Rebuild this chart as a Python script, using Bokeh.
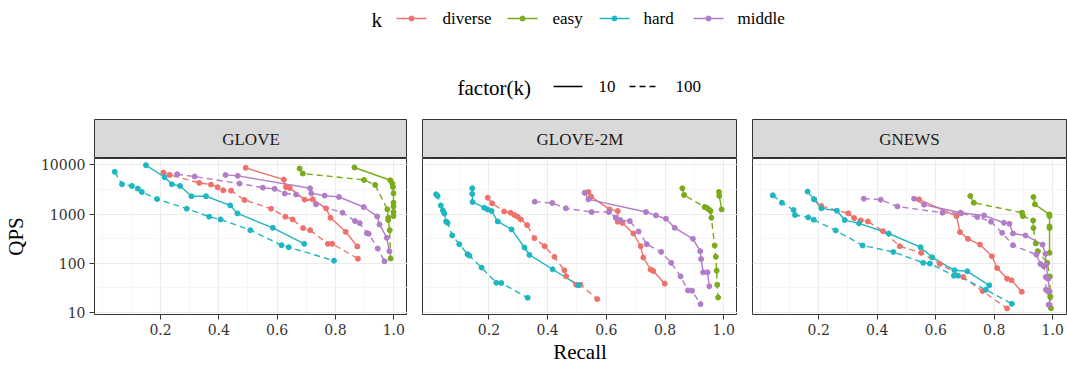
from bokeh.plotting import figure
from bokeh.layouts import column, row
from bokeh.models import Range1d, FixedTicker, CustomJSTickFormatter
from bokeh.core.properties import value
from bokeh.embed import file_html
from bokeh.resources import INLINE

FONT = "Liberation Serif"
TICKFONT = "DejaVu Serif"
TICKSIZE = "14px"
SMALL = "17px"
BIG = "21px"

datasets = ["GLOVE", "GLOVE-2M", "GNEWS"]
workloads = ["diverse", "easy", "hard", "middle"]
k_levels = ["10", "100"]
palette = ["#F0706B", "#7AAB1A", "#1DB7C1", "#B27DC8"]

x_ticks = [0.2, 0.4, 0.6, 0.8, 1.0]
x_minor = [0.0, 0.1, 0.3, 0.5, 0.7, 0.9]
y_ticks = [10, 100, 1000, 10000]
y_minor = [10 ** 1.5, 10 ** 2.5, 10 ** 3.5]

# ---------------- GLOVE ----------------
glove_diverse_10_recall = [0.492, 0.623, 0.630, 0.643, 0.694, 0.722, 0.768, 0.783, 0.835, 0.875]
glove_diverse_10_qps = [8690, 5020, 3560, 3400, 1963, 1990, 1305, 841, 436, 219]
glove_diverse_100_recall = [0.210, 0.232, 0.333, 0.373, 0.396, 0.415, 0.442, 0.488, 0.579, 0.628, 0.653, 0.689, 0.713, 0.774, 0.789, 0.877]
glove_diverse_100_qps = [6980, 6250, 4300, 3970, 3500, 3040, 2990, 1930, 1285, 884, 778, 518, 471, 248, 248, 124]
glove_easy_10_recall = [0.865, 0.988, 0.995, 0.997, 0.999, 0.999, 0.999, 0.999, 0.999]
glove_easy_10_qps = [8840, 4860, 4160, 3560, 2640, 1700, 1430, 1100, 910]
glove_easy_100_recall = [0.677, 0.688, 0.898, 0.936, 0.978, 0.981, 0.981, 0.986, 0.989]
glove_easy_100_qps = [8420, 6660, 4940, 3910, 1245, 840, 755, 471, 125]
glove_hard_10_recall = [0.150, 0.214, 0.239, 0.267, 0.306, 0.356, 0.439, 0.464, 0.585, 0.693]
glove_hard_10_qps = [9840, 5600, 4030, 3730, 2300, 2300, 1500, 1030, 526, 248]
glove_hard_100_recall = [0.043, 0.068, 0.102, 0.122, 0.136, 0.188, 0.290, 0.367, 0.406, 0.508, 0.615, 0.640, 0.795]
glove_hard_100_qps = [7200, 4030, 3730, 3290, 2810, 2020, 1285, 884, 778, 471, 233, 212, 113]
glove_middle_10_recall = [0.423, 0.465, 0.713, 0.717, 0.763, 0.812, 0.897, 0.943, 0.951, 0.976, 0.985]
glove_middle_10_qps = [6250, 5970, 3340, 2640, 2370, 2220, 1390, 896, 615, 329, 176]
glove_middle_100_recall = [0.257, 0.317, 0.471, 0.551, 0.591, 0.626, 0.665, 0.733, 0.824, 0.867, 0.883, 0.908, 0.914, 0.945, 0.968]
glove_middle_100_qps = [6450, 5780, 4160, 3440, 3250, 2620, 2500, 1575, 1065, 720, 655, 409, 397, 199, 110]

# ---------------- GLOVE-2M ----------------
glove2m_diverse_10_recall = [0.539, 0.548, 0.611, 0.639, 0.639, 0.655, 0.692, 0.717, 0.726, 0.751, 0.760, 0.799]
glove2m_diverse_10_qps = [2810, 2260, 1245, 1150, 698, 660, 403, 222, 131, 74.3, 69.8, 38.5]
glove2m_diverse_100_recall = [0.196, 0.211, 0.252, 0.274, 0.287, 0.298, 0.309, 0.330, 0.355, 0.390, 0.423, 0.457, 0.463, 0.497, 0.512, 0.569]
glove2m_diverse_100_qps = [2150, 1650, 1133, 1065, 954, 883, 778, 597, 324, 222, 135, 72, 54.3, 36.7, 36.7, 18.7]
glove2m_easy_10_recall = [0.984, 0.985, 0.993]
glove2m_easy_10_qps = [2810, 2330, 1245]
glove2m_easy_100_recall = [0.859, 0.865, 0.935, 0.942, 0.949, 0.955, 0.958, 0.969, 0.973, 0.976, 0.978, 0.981]
glove2m_easy_100_qps = [3340, 2440, 1390, 1346, 1245, 1150, 841, 230, 135, 70.8, 36.7, 20.2]
glove2m_hard_10_recall = [0.143, 0.143, 0.144, 0.184, 0.195, 0.209, 0.230, 0.277, 0.321, 0.338, 0.417, 0.505]
glove2m_hard_10_qps = [3340, 2560, 1760, 1345, 1245, 1150, 708, 487, 209, 148, 75.5, 35.6]
glove2m_hard_100_recall = [0.020, 0.025, 0.036, 0.043, 0.048, 0.054, 0.059, 0.075, 0.099, 0.127, 0.133, 0.175, 0.225, 0.242, 0.332]
glove2m_hard_100_qps = [2520, 2330, 1500, 1190, 1030, 708, 665, 367, 244, 153, 143, 81.6, 40.3, 39.7, 19.9]
glove2m_middle_10_recall = [0.526, 0.539, 0.735, 0.769, 0.803, 0.833, 0.895, 0.920, 0.923, 0.930, 0.945, 0.951]
glove2m_middle_10_qps = [2720, 1990, 1100, 940, 804, 526, 314, 176, 122, 65.5, 65.5, 34]
glove2m_middle_100_recall = [0.356, 0.416, 0.462, 0.550, 0.609, 0.632, 0.648, 0.680, 0.710, 0.738, 0.787, 0.821, 0.853, 0.878, 0.892, 0.921]
glove2m_middle_100_qps = [1785, 1677, 1306, 1100, 1100, 841, 755, 720, 443, 244, 170, 102, 54.3, 28.1, 27.7, 14.8]

# ---------------- GNEWS ----------------
gnews_diverse_10_recall = [0.543, 0.671, 0.683, 0.710, 0.751, 0.792, 0.810, 0.844, 0.859, 0.894]
gnews_diverse_10_qps = [1990, 910, 430, 314, 240, 139, 80, 48.6, 45, 26.4]
gnews_diverse_100_recall = [0.184, 0.209, 0.301, 0.321, 0.343, 0.368, 0.420, 0.477, 0.550, 0.614, 0.694, 0.760, 0.844]
gnews_diverse_100_qps = [1990, 1455, 1033, 828, 743, 708, 450, 222, 163, 96.8, 52.6, 27.2, 12.1]
gnews_easy_10_recall = [0.934, 0.939, 0.988, 0.989, 0.989, 0.989, 0.989]
gnews_easy_10_qps = [2220, 1575, 985, 910, 560, 518, 163]
gnews_easy_100_recall = [0.718, 0.730, 0.895, 0.898, 0.933, 0.934, 0.942, 0.949, 0.981, 0.990, 0.992, 0.994]
gnews_easy_100_qps = [2330, 1700, 1065, 910, 743, 518, 252, 176, 102, 54, 21, 12.2]
gnews_hard_10_recall = [0.162, 0.184, 0.209, 0.262, 0.289, 0.338, 0.439, 0.548, 0.588, 0.664, 0.708, 0.783]
gnews_hard_10_qps = [2860, 1990, 1306, 1170, 755, 646, 403, 212, 132, 72, 68.7, 35.6]
gnews_hard_100_recall = [0.043, 0.074, 0.114, 0.119, 0.164, 0.183, 0.258, 0.350, 0.455, 0.557, 0.580, 0.662, 0.676, 0.771, 0.860]
gnews_hard_100_qps = [2400, 1700, 1210, 955, 856, 766, 465, 230, 170, 102, 98.5, 56, 56, 29, 15]
gnews_middle_10_recall = [0.526, 0.560, 0.685, 0.765, 0.833, 0.852, 0.864, 0.907, 0.965, 0.975, 0.978, 0.984, 0.989, 0.989]
gnews_middle_10_qps = [2055, 1550, 1065, 940, 665, 635, 403, 367, 240, 155, 94, 48.6, 26.8, 14.3]
gnews_middle_100_recall = [0.354, 0.412, 0.469, 0.623, 0.687, 0.742, 0.789, 0.827, 0.864, 0.944, 0.958, 0.969, 0.976, 0.977, 0.984, 0.986]
gnews_middle_100_qps = [2055, 1963, 1430, 1065, 1033, 869, 698, 416, 233, 150, 97, 87, 52.6, 29, 26.8, 14.3]

g = globals()
prefixes = {"GLOVE": "glove", "GLOVE-2M": "glove2m", "GNEWS": "gnews"}


def series(ds, wl, k):
    pre = f"{prefixes[ds]}_{wl}_{k}"
    return g[pre + "_recall"], g[pre + "_qps"]


dash_of = {"10": "solid", "100": "6 4"}

# ---------------- legend strip at top ----------------
leg = figure(width=1067, height=119, x_range=Range1d(0, 1067), y_range=Range1d(119, 0),
             x_axis_location=None, y_axis_location=None, toolbar_location=None,
             output_backend="svg", min_border=0, outline_line_color=None)
leg.grid.visible = False
leg.text(x=[371], y=[19], text=["k"], text_font=value(FONT), text_font_size=BIG,
         text_baseline="middle", text_align="left", text_color="black")
sw_x = [396, 507, 599, 693]
lab_x = [442, 552, 643, 737]
for wl, col, sx, lx in zip(workloads, palette, sw_x, lab_x):
    leg.line([sx, sx + 30], [18, 18], line_color=col, line_width=1.5)
    leg.scatter([sx + 15], [18], size=5, color=col)
    leg.text(x=[lx], y=[18], text=[wl], text_font=value(FONT), text_font_size=SMALL,
             text_baseline="middle", text_align="left", text_color="black")
leg.text(x=[457], y=[87], text=["factor(k)"], text_font=value(FONT), text_font_size=BIG,
         text_baseline="middle", text_align="left", text_color="black")
for k, sx, lx in zip(k_levels, [553, 629], [598, 675]):
    leg.line([sx, sx + 29], [86, 86], line_color="black", line_width=1.4, line_dash=dash_of[k])
    leg.text(x=[lx], y=[86], text=[k], text_font=value(FONT), text_font_size=SMALL,
             text_baseline="middle", text_align="left", text_color="black")

# ---------------- panels ----------------
cols = []
for i, ds in enumerate(datasets):
    left = 92 if i == 0 else 15
    right = 1 if i == 2 else 0
    fw = 315 if i < 2 else 314
    W = left + fw + right

    strip = figure(width=W, height=39, x_range=Range1d(0, 1), y_range=Range1d(0, 1),
                   x_axis_location=None, y_axis_location=None, toolbar_location=None,
                   output_backend="svg", min_border_left=left, min_border_right=right,
                   min_border_top=0, min_border_bottom=0,
                   background_fill_color="#D9D9D9", outline_line_color="#333333",
                   outline_line_width=1)
    strip.grid.visible = False
    strip.text(x=[0.5], y=[0.5], text=[ds], text_font=value(FONT), text_font_size=SMALL,
               text_align="center", text_baseline="middle", text_color="#1A1A1A")

    p = figure(width=W, height=209, y_axis_type="log",
               x_range=Range1d(-0.0264, 1.047), y_range=Range1d(10 ** 0.959, 10 ** 4.129),
               y_axis_location="left" if i == 0 else None,
               toolbar_location=None, output_backend="svg",
               min_border_left=left, min_border_right=right, min_border_top=0, min_border_bottom=53,
               outline_line_color="#333333", outline_line_width=1)
    p.xgrid.ticker = FixedTicker(ticks=x_ticks, minor_ticks=x_minor)
    p.ygrid.ticker = FixedTicker(ticks=y_ticks, minor_ticks=y_minor)
    for gr in (p.xgrid, p.ygrid):
        gr.grid_line_color = "#EBEBEB"
        gr.grid_line_width = 1.1
        gr.minor_grid_line_color = "#F2F2F2"
        gr.minor_grid_line_width = 0.7

    xa = p.xaxis[0]
    xa.ticker = FixedTicker(ticks=x_ticks, minor_ticks=x_minor)
    xa.formatter = CustomJSTickFormatter(code="return tick.toFixed(1)")
    axes = [xa]
    if i == 0:
        ya = p.yaxis[0]
        ya.ticker = FixedTicker(ticks=y_ticks, minor_ticks=y_minor)
        ya.formatter = CustomJSTickFormatter(code="return tick.toFixed(0)")
        ya.axis_label = "QPS"
        ya.axis_label_standoff = 10
        axes.append(ya)
    if i == 1:
        xa.axis_label = "Recall"
        xa.axis_label_standoff = 2
    for ax in axes:
        ax.axis_line_color = None
        ax.major_tick_line_color = "#333333"
        ax.major_tick_out = 5
        ax.major_tick_in = 0
        ax.minor_tick_line_color = None
        ax.major_label_standoff = 4
        ax.major_label_text_font = TICKFONT
        ax.major_label_text_font_style = "normal"
        ax.major_label_text_font_size = TICKSIZE
        ax.major_label_text_color = "#333333"
        ax.axis_label_text_font = FONT
        ax.axis_label_text_font_size = BIG
        ax.axis_label_text_font_style = "normal"
        ax.axis_label_text_color = "black"

    for wl, col in zip(workloads, palette):
        for k in k_levels:
            xs, ys = series(ds, wl, k)
            p.line(xs, ys, line_color=col, line_width=1.4, line_dash=dash_of[k])
    for wl, col in zip(workloads, palette):
        for k in k_levels:
            xs, ys = series(ds, wl, k)
            p.scatter(xs, ys, size=5, color=col, marker="circle")

    cols.append(column(strip, p, spacing=0))

layout = column(leg, row(*cols, spacing=0), spacing=0)

with open("out.html", "w") as f:
    f.write(file_html(layout, INLINE, title="QPS vs Recall"))
